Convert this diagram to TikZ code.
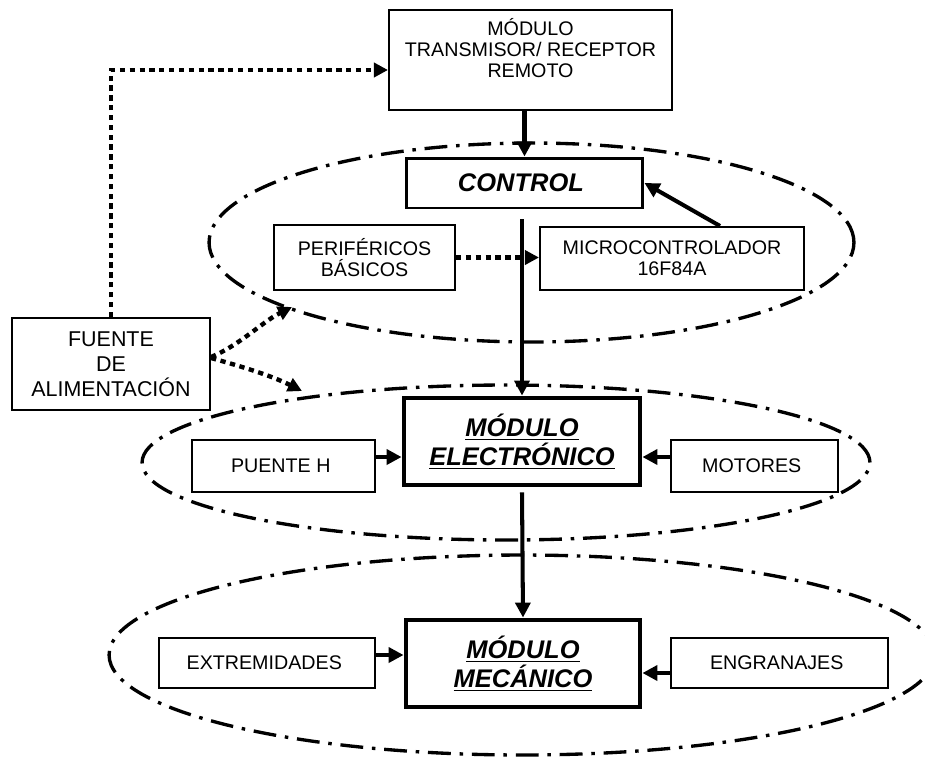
\documentclass[tikz,border=0pt]{standalone}
\usepackage{fontspec}
\setmainfont{Liberation Sans}
\usetikzlibrary{arrows.meta}

\begin{document}
\begin{tikzpicture}[x = 0.02cm, y = -0.02cm, every node/.style={align = center, inner sep = 0pt, font = \fontsize{11.2}{12}\selectfont},
  blockbox/.style={draw, line width = 1.2pt},
  mainbox/.style={draw, line width = 2.8pt, font = \fontsize{14.5}{16.5}\selectfont\bfseries\itshape},
  group/.style={line width = 1.9pt, dash pattern = on 13pt off 5pt on 2pt off 5pt},
  flow/.style={line width = 2.3pt, -{Triangle[length = 8.5pt, width = 8.5pt]}},
  power/.style={line width = 2.5pt, dash pattern = on 3pt off 2.6pt, -{Triangle[length = 8pt, width = 8pt]}}]

  \useasboundingbox [fill = white] (0, 0) rectangle (925, 758);
  \clip (0, 0) rectangle (925, 758);

  \draw [group] (531.5, 242.5) ellipse [x radius = 6.45cm, y radius = 1.99cm];
  \draw [group] (506, 462.5) ellipse [x radius = 7.28cm, y radius = 1.55cm];
  \draw [group] (522, 655) ellipse [x radius = 8.26cm, y radius = 2cm];

  \node [blockbox, minimum width = 5.66cm, minimum height = 2cm, text height = 32pt, text depth = 12pt] (remote) at (530.5, 60) { MÓDULO\\TRANSMISOR/ RECEPTOR\\REMOTO };
  \node [mainbox, line width = 1.7pt, minimum width = 4.74cm, minimum height = 1cm] (control) at (524.5, 183) { CONTROL };
  \node [blockbox, minimum width = 3.62cm, minimum height = 1.3cm] (perif) at (364.5, 257.5) { PERIFÉRICOS\\BÁSICOS };
  \node [blockbox, minimum width = 5.28cm, minimum height = 1.26cm] (micro) at (672, 258.5) { MICROCONTROLADOR\\16F84A };
  \node [blockbox, minimum width = 3.96cm, minimum height = 1.84cm, font = \fontsize{12.2}{14.2}\selectfont] (fuente) at (111, 364) { FUENTE\\DE\\ALIMENTACIÓN };

  \node [mainbox, minimum width = 4.72cm, minimum height = 1.74cm] (elec) at (522, 441.5) { \underline{MÓDULO}\\\underline{ELECTRÓNICO} };
  \node [blockbox, minimum width = 3.66cm, minimum height = 1.04cm] (puente) at (283.5, 466) { PUENTE H };
  \node [blockbox, minimum width = 3.34cm, minimum height = 1.04cm] (motores) at (754.5, 466) { MOTORES };

  \node [mainbox, minimum width = 4.68cm, minimum height = 1.74cm] (mec) at (523, 663.5) { \underline{MÓDULO}\\\underline{MECÁNICO} };
  \node [blockbox, minimum width = 4.32cm, minimum height = 1cm] (extrem) at (267, 663) { EXTREMIDADES };
  \node [blockbox, minimum width = 4.34cm, minimum height = 1cm] (engr) at (779.5, 663) { ENGRANAJES };

  \coordinate (upper) at (292, 307);
  \coordinate (lower) at (302, 391);

  \draw [flow] (remote.south -| control.north) -- (control.north);
  \draw [flow] ([yshift = -0.2cm]control.south -| elec.north) -- (elec.north);
  \draw [power] (perif.east) -- (perif.east -| micro.west);
  \draw [flow] ([xshift = 0.96cm]micro.north) -- (control.east);

  \draw [power] (fuente.north) |- ([yshift = -0.2cm]remote.west);
  \draw [power] ([yshift = 0.14cm]fuente.east) .. controls (240, 345) and (262, 322) .. (upper);
  \draw [power] ([yshift = 0.12cm]fuente.east) .. controls (240, 366) and (270, 375) .. (lower);

  \draw [flow] ([yshift = 0.18cm]puente.east) -- ([yshift = 0.18cm]puente.east -| elec.west);
  \draw [flow] ([yshift = 0.18cm]motores.west) -- ([yshift = 0.18cm]motores.west -| elec.east);
  \draw [flow] ([yshift = -0.1cm]elec.south) -- (mec.north);
  \draw [flow] ([yshift = 0.16cm]extrem.east) -- ([yshift = 0.16cm]extrem.east -| mec.west);
  \draw [flow] ([yshift = -0.2cm]engr.west) -- ([yshift = -0.2cm]engr.west -| mec.east);

\end{tikzpicture}
\end{document}
